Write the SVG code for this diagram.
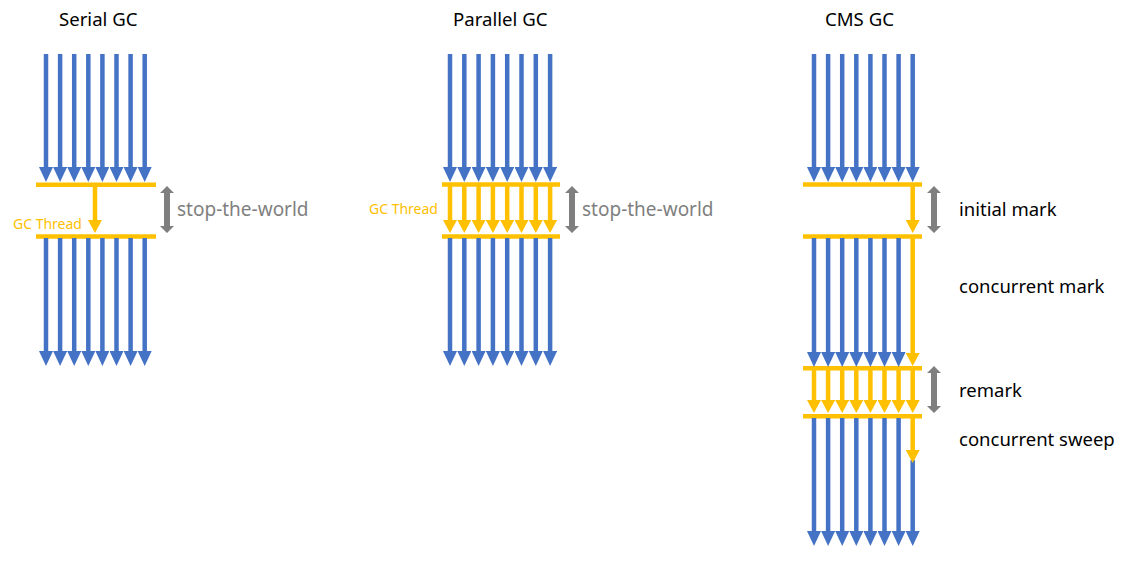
<svg xmlns="http://www.w3.org/2000/svg" width="1134" height="572" viewBox="0 0 1134 572">
<style>
.t{font-family:"Noto Sans","DejaVu Sans",sans-serif;}
.title{font-size:18.6px;fill:#000;}
.lab{font-size:18.5px;fill:#000;}
.stw{font-size:19px;fill:#7f7f7f;}
.gct{font-size:14px;fill:#ffc000;}
.b{stroke:#4472c4;stroke-width:4.5;fill:none;marker-end:url(#hb);}
.y{stroke:#ffc000;stroke-width:4.5;fill:none;marker-end:url(#hy);}
.bar{stroke:#ffc000;stroke-width:4.5;}
.g{fill:#7f7f7f;}
</style>
<defs>
<marker id="hb" markerUnits="userSpaceOnUse" markerWidth="15" markerHeight="14" viewBox="0 0 15 14" refX="0.5" refY="7" orient="auto"><path d="M0,0 L15,7 L0,14 z" fill="#4472c4"/></marker>
<marker id="hy" markerUnits="userSpaceOnUse" markerWidth="13" markerHeight="14" viewBox="0 0 13 14" refX="0.5" refY="7" orient="auto"><path d="M0,0 L13,7 L0,14 z" fill="#ffc000"/></marker>
<path id="dbl" d="M0,0 L7,7 L3,7 L3,40 L7,40 L0,47 L-7,40 L-3,40 L-3,7 L-7,7 z"/>
</defs>

<g id="titles">
<text class="t title" x="59" y="26">Serial GC</text>
<text class="t title" x="453" y="26">Parallel GC</text>
<text class="t title" x="825" y="26">CMS GC</text>
</g>

<g id="serial">
<g id="serial-bars">
<line class="bar" x1="36" y1="184.7" x2="156" y2="184.7"/>
<line class="bar" x1="36" y1="236.5" x2="156" y2="236.5"/>
</g>
<use href="#dbl" class="g" x="167" y="186"/>
<text class="t stw" x="177" y="216">stop-the-world</text>
<text class="t gct" x="13" y="229">GC Thread</text>
</g>

<g id="parallel">
<g id="parallel-bars">
<line class="bar" x1="442" y1="184.5" x2="560" y2="184.5"/>
<line class="bar" x1="442" y1="236.5" x2="560" y2="236.5"/>
</g>
<use href="#dbl" class="g" x="572" y="186"/>
<text class="t stw" x="582" y="216">stop-the-world</text>
<text class="t gct" x="369" y="214">GC Thread</text>
</g>

<g id="cms">
<g id="cms-bars">
<line class="bar" x1="803" y1="184.5" x2="922" y2="184.5"/>
<line class="bar" x1="803" y1="236.5" x2="922" y2="236.5"/>
<line class="bar" x1="803" y1="368.3" x2="922" y2="368.3"/>
<line class="bar" x1="803" y1="416.3" x2="922" y2="416.3"/>
</g>
<use href="#dbl" class="g" x="934" y="186"/>
<use href="#dbl" class="g" x="934" y="366"/>
<text class="t lab" x="959" y="216">initial mark</text>
<text class="t lab" x="959" y="293">concurrent mark</text>
<text class="t lab" x="959" y="397">remark</text>
<text class="t lab" x="959" y="446">concurrent sweep</text>
</g>

<g id="connectors">
<g id="serial-threads">
<line class="b" x1="46" y1="54" x2="46" y2="167.5"/>
<line class="b" x1="60.1" y1="54" x2="60.1" y2="167.5"/>
<line class="b" x1="74.2" y1="54" x2="74.2" y2="167.5"/>
<line class="b" x1="88.3" y1="54" x2="88.3" y2="167.5"/>
<line class="b" x1="102.4" y1="54" x2="102.4" y2="167.5"/>
<line class="b" x1="116.5" y1="54" x2="116.5" y2="167.5"/>
<line class="b" x1="130.6" y1="54" x2="130.6" y2="167.5"/>
<line class="b" x1="144.7" y1="54" x2="144.7" y2="167.5"/>
<line class="y" x1="95" y1="186" x2="95" y2="220.5"/>
<line class="b" x1="46" y1="238" x2="46" y2="351.5"/>
<line class="b" x1="60.1" y1="238" x2="60.1" y2="351.5"/>
<line class="b" x1="74.2" y1="238" x2="74.2" y2="351.5"/>
<line class="b" x1="88.3" y1="238" x2="88.3" y2="351.5"/>
<line class="b" x1="102.4" y1="238" x2="102.4" y2="351.5"/>
<line class="b" x1="116.5" y1="238" x2="116.5" y2="351.5"/>
<line class="b" x1="130.6" y1="238" x2="130.6" y2="351.5"/>
<line class="b" x1="144.7" y1="238" x2="144.7" y2="351.5"/>
</g>
<g id="parallel-threads">
<line class="b" x1="450" y1="54" x2="450" y2="167.5"/>
<line class="b" x1="464.3" y1="54" x2="464.3" y2="167.5"/>
<line class="b" x1="478.6" y1="54" x2="478.6" y2="167.5"/>
<line class="b" x1="492.9" y1="54" x2="492.9" y2="167.5"/>
<line class="b" x1="507.2" y1="54" x2="507.2" y2="167.5"/>
<line class="b" x1="521.5" y1="54" x2="521.5" y2="167.5"/>
<line class="b" x1="535.8" y1="54" x2="535.8" y2="167.5"/>
<line class="b" x1="550.1" y1="54" x2="550.1" y2="167.5"/>
<line class="y" x1="450" y1="186" x2="450" y2="220.5"/>
<line class="y" x1="464.3" y1="186" x2="464.3" y2="220.5"/>
<line class="y" x1="478.6" y1="186" x2="478.6" y2="220.5"/>
<line class="y" x1="492.9" y1="186" x2="492.9" y2="220.5"/>
<line class="y" x1="507.2" y1="186" x2="507.2" y2="220.5"/>
<line class="y" x1="521.5" y1="186" x2="521.5" y2="220.5"/>
<line class="y" x1="535.8" y1="186" x2="535.8" y2="220.5"/>
<line class="y" x1="550.1" y1="186" x2="550.1" y2="220.5"/>
<line class="b" x1="450" y1="238" x2="450" y2="351.5"/>
<line class="b" x1="464.3" y1="238" x2="464.3" y2="351.5"/>
<line class="b" x1="478.6" y1="238" x2="478.6" y2="351.5"/>
<line class="b" x1="492.9" y1="238" x2="492.9" y2="351.5"/>
<line class="b" x1="507.2" y1="238" x2="507.2" y2="351.5"/>
<line class="b" x1="521.5" y1="238" x2="521.5" y2="351.5"/>
<line class="b" x1="535.8" y1="238" x2="535.8" y2="351.5"/>
<line class="b" x1="550.1" y1="238" x2="550.1" y2="351.5"/>
</g>
<g id="cms-threads">
<line class="b" x1="814" y1="54" x2="814" y2="167.5"/>
<line class="b" x1="828.1" y1="54" x2="828.1" y2="167.5"/>
<line class="b" x1="842.2" y1="54" x2="842.2" y2="167.5"/>
<line class="b" x1="856.3" y1="54" x2="856.3" y2="167.5"/>
<line class="b" x1="870.4" y1="54" x2="870.4" y2="167.5"/>
<line class="b" x1="884.5" y1="54" x2="884.5" y2="167.5"/>
<line class="b" x1="898.6" y1="54" x2="898.6" y2="167.5"/>
<line class="b" x1="912.7" y1="54" x2="912.7" y2="167.5"/>
<line class="y" x1="912.7" y1="186" x2="912.7" y2="220.5"/>
<line class="b" x1="814" y1="238" x2="814" y2="352.5"/>
<line class="b" x1="828.1" y1="238" x2="828.1" y2="352.5"/>
<line class="b" x1="842.2" y1="238" x2="842.2" y2="352.5"/>
<line class="b" x1="856.3" y1="238" x2="856.3" y2="352.5"/>
<line class="b" x1="870.4" y1="238" x2="870.4" y2="352.5"/>
<line class="b" x1="884.5" y1="238" x2="884.5" y2="352.5"/>
<line class="b" x1="898.6" y1="238" x2="898.6" y2="352.5"/>
<line class="y" x1="912.7" y1="238" x2="912.7" y2="353.5"/>
<line class="y" x1="814" y1="370" x2="814" y2="400.5"/>
<line class="y" x1="828.1" y1="370" x2="828.1" y2="400.5"/>
<line class="y" x1="842.2" y1="370" x2="842.2" y2="400.5"/>
<line class="y" x1="856.3" y1="370" x2="856.3" y2="400.5"/>
<line class="y" x1="870.4" y1="370" x2="870.4" y2="400.5"/>
<line class="y" x1="884.5" y1="370" x2="884.5" y2="400.5"/>
<line class="y" x1="898.6" y1="370" x2="898.6" y2="400.5"/>
<line class="y" x1="912.7" y1="370" x2="912.7" y2="400.5"/>
<line class="b" x1="814" y1="418" x2="814" y2="531.5"/>
<line class="b" x1="828.1" y1="418" x2="828.1" y2="531.5"/>
<line class="b" x1="842.2" y1="418" x2="842.2" y2="531.5"/>
<line class="b" x1="856.3" y1="418" x2="856.3" y2="531.5"/>
<line class="b" x1="870.4" y1="418" x2="870.4" y2="531.5"/>
<line class="b" x1="884.5" y1="418" x2="884.5" y2="531.5"/>
<line class="b" x1="898.6" y1="418" x2="898.6" y2="531.5"/>
<line class="b" x1="912.7" y1="460" x2="912.7" y2="531.5"/>
<line class="y" x1="912.7" y1="418" x2="912.7" y2="450.5"/>
</g>
</g>
</svg>
